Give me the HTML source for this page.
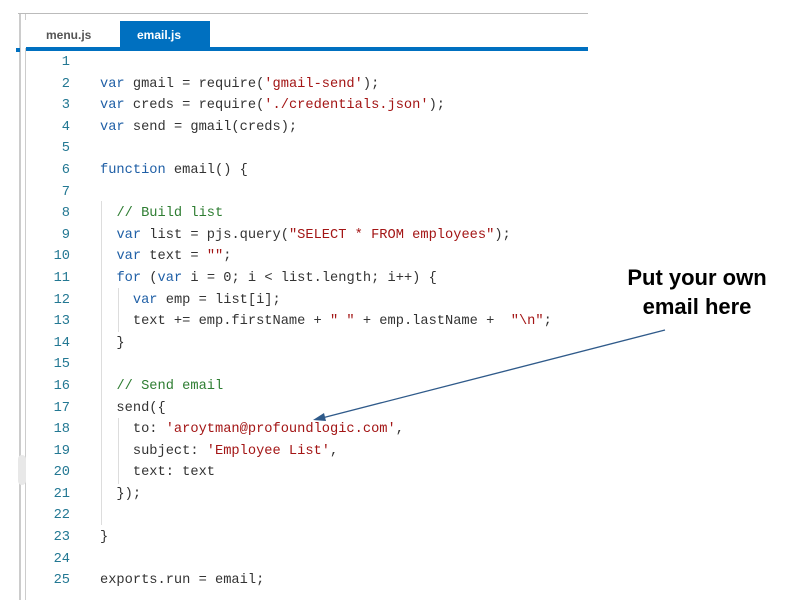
<!DOCTYPE html>
<html><head><style>
body{margin:0;width:801px;height:608px;background:#fff;position:relative;overflow:hidden;font-family:"Liberation Sans",sans-serif}
.a{position:absolute}
.code{font-family:"Liberation Mono",monospace;font-size:13.7px;color:#333;white-space:pre;line-height:21.6px}
.n{color:#237893;text-align:right;width:40px;left:30px}
.k{color:#1f5fa6}.s{color:#a31515}.c{color:#2e7d32}
</style></head><body>
<div class="a" style="left:18px;top:13px;width:570px;height:1px;background:#bbb"></div>
<div class="a" style="left:19px;top:14px;width:2px;height:586px;background:#ccc"></div>
<div class="a" style="left:25px;top:14px;width:1px;height:586px;background:#ccc"></div>
<div class="a" style="left:16px;top:48px;width:4px;height:4px;background:#0070c0"></div>
<div class="a" style="left:21px;top:20px;width:567px;height:28px;background:#fff"></div>
<div class="a" style="left:46px;top:28px;font-size:12px;font-weight:bold;color:#555">menu.js</div>
<div class="a" style="left:120px;top:21px;width:90px;height:27px;background:#0070c0"></div>
<div class="a" style="left:137px;top:28px;font-size:12px;font-weight:bold;color:#fff">email.js</div>
<div class="a" style="left:26px;top:47px;width:562px;height:4px;background:#0070c0"></div>
<div class="a" style="left:18px;top:455px;width:8px;height:30px;background:#e8e8e8;border-radius:4px"></div>
<div class="a" style="left:101px;top:201px;width:1px;height:324px;background:#ddd"></div>
<div class="a" style="left:118px;top:288px;width:1px;height:44px;background:#ddd"></div>
<div class="a" style="left:118px;top:418px;width:1px;height:66px;background:#ddd"></div>
<div class="a code n" style="top:52px">1
2
3
4
5
6
7
8
9
10
11
12
13
14
15
16
17
18
19
20
21
22
23
24
25</div>
<div class="a code" style="left:100px;top:52px">
<span class="k">var</span> gmail = require(<span class="s">'gmail-send'</span>);
<span class="k">var</span> creds = require(<span class="s">'./credentials.json'</span>);
<span class="k">var</span> send = gmail(creds);

<span class="k">function</span> email() {

  <span class="c">// Build list</span>
  <span class="k">var</span> list = pjs.query(<span class="s">"SELECT * FROM employees"</span>);
  <span class="k">var</span> text = <span class="s">""</span>;
  <span class="k">for</span> (<span class="k">var</span> i = 0; i &lt; list.length; i++) {
    <span class="k">var</span> emp = list[i];
    text += emp.firstName + <span class="s">" "</span> + emp.lastName +  <span class="s">"\n"</span>;
  }

  <span class="c">// Send email</span>
  send({
    to: <span class="s">'aroytman@profoundlogic.com'</span>,
    subject: <span class="s">'Employee List'</span>,
    text: text
  });

}

exports.run = email;</div>
<div class="a" style="left:597px;top:263px;width:200px;text-align:center;font-size:22px;font-weight:bold;line-height:29px;color:#000">Put your own<br>email here</div>
<svg class="a" style="left:0;top:0" width="801" height="608">
<line x1="665" y1="330" x2="322" y2="418" stroke="#2f5a8a" stroke-width="1.3"/>
<polygon points="313,420 324,413 326,421" fill="#2f5a8a"/>
</svg>
</body></html>
